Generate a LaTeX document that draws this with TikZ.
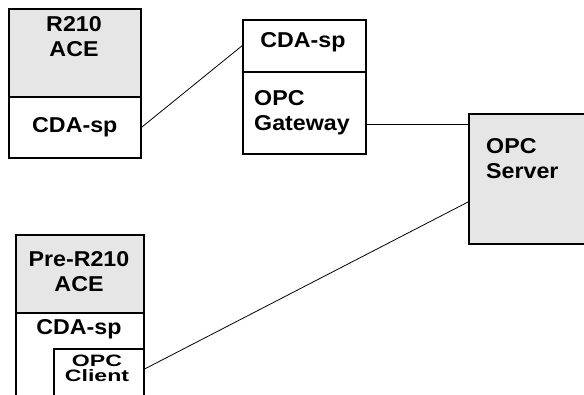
\documentclass[tikz,border=0pt]{standalone}
\usepackage{fontspec}
\setmainfont{Liberation Sans}[FakeStretch = 1.08]
\newfontfamily\clientfont{Liberation Sans}[FakeStretch = 1.4]
\usepackage{tikz}
\usetikzlibrary{calc, positioning}
\definecolor{panelgray}{RGB}{230,230,230}

\begin{document}
\begin{tikzpicture}[x = 1pt, y = -1pt,
        box/.style = {draw, line width = 1.6pt, anchor = north west, inner sep = 0pt},
        txt/.style = {font = \bfseries\fontsize{21.5}{25}\selectfont, inner sep = 0pt},
        smalltxt/.style = {font = \clientfont\bfseries\fontsize{16.5}{15}\selectfont, inner sep = 0pt, align = center},
        wire/.style = {black, line width = 0.8pt}]
            \clip (0,0) rectangle (584,394);
            \node[box, fill = panelgray, minimum width = 132, minimum height = 88] (aceR) at (8,8) {};
            \node[box, minimum width = 132, minimum height = 61] (cdaR) at (8,96) {};
            \node[box, minimum width = 123, minimum height = 52] (cdaG) at (242,19) {};
            \node[box, minimum width = 123, minimum height = 82] (opcG) at (242,71) {};
            \node[box, fill = panelgray, minimum width = 140, minimum height = 130] (server) at (468,113) {};
            \node[box, fill = panelgray, minimum width = 128, minimum height = 78] (acePre) at (15,234) {};
            \node[box, minimum width = 128, minimum height = 100] (cdaPre) at (15,312) {};
            \node[box, minimum width = 90, minimum height = 60] (client) at (53,348) {};
            \node[txt, align = center] (aceRtxt) at (74,37) {R210\\ACE};
            \node[txt] (cdaRtxt) at (cdaR.center) {CDA-sp};
            \node[txt] (cdaGtxt) at (303,42) {CDA-sp};
            \node[txt, align = left, anchor = west] (opcGtxt) at (254,113) {OPC\\Gateway};
            \node[txt, align = left, anchor = west] (servertxt) at (486,159) {OPC\\Server};
            \node[txt, align = center] (acePretxt) at (79,272) {Pre-R210\\ACE};
            \node[txt] (cdaPretxt) at (79,329) {CDA-sp};
            \node[smalltxt] (clienttxt) at (97,368) {OPC\\Client};
            \draw[wire] (cdaR.east) -- (cdaG.west);
            \draw[wire] ($(opcG.north east)+(0,53)$) coordinate (gwout) -- (gwout -| server.west);
            \draw[wire] ($(client.north east)+(0,21)$) -- ($(server.north west)+(0,89)$);
        \end{tikzpicture}
\end{document}
